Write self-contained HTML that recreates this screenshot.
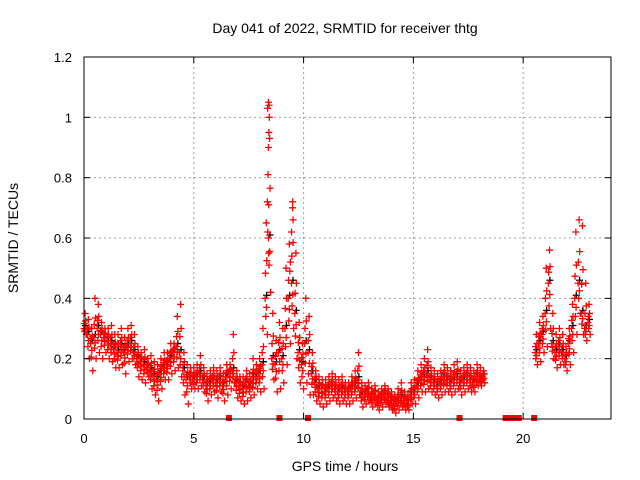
<!DOCTYPE html>
<html><head><meta charset="utf-8"><style>
html,body{margin:0;padding:0;background:#fff;}
svg{display:block;font-family:"Liberation Sans",sans-serif;}
</style></head><body>
<svg id="chart" width="640" height="480" viewBox="0 0 640 480" xmlns="http://www.w3.org/2000/svg">
<rect x="0" y="0" width="640" height="480" fill="#fff"/>
<g id="grid"></g>
<g id="marks"></g>
<g id="axes"></g>
<text x="345" y="33" font-size="14" text-anchor="middle">Day 041 of 2022, SRMTID for receiver thtg</text>
<text x="345" y="471" font-size="14" text-anchor="middle">GPS time / hours</text>
<text x="0" y="0" font-size="14" text-anchor="middle" transform="translate(18,238) rotate(-90)">SRMTID / TECUs</text>
</svg>
<script>
const hours=[0,0.15,0.3,0.45,0.6,0.75,0.9,1.05,1.2,1.35,1.5,1.65,1.8,1.95,2.1,2.25,2.4,2.55,2.7,2.85,
3.0,3.15,3.3,3.45,3.6,3.75,3.9,4.05,4.2,4.35,4.5,4.65,4.8,4.95,5.1,5.25,5.4,5.55,5.7,5.85,
6.0,6.15,6.3,6.45,6.6,6.75,6.9,7.05,7.2,7.35,7.5,7.65,7.8,7.95,8.1,8.25,8.4,8.55,8.7,8.85,
9.0,9.15,9.3,9.45,9.6,9.75,9.9,10.05,10.2,10.35,10.5,10.65,10.8,10.95,11.1,11.25,11.4,11.55,11.7,11.85,
12.0,12.15,12.3,12.45,12.6,12.75,12.9,13.05,13.2,13.35,13.5,13.65,13.8,13.95,14.1,14.25,14.4,14.55,14.7,14.85,
15.0,15.15,15.3,15.45,15.6,15.75,15.9,16.05,16.2,16.35,16.5,16.65,16.8,16.95,17.1,17.25,17.4,17.55,17.7,17.85,
18.0,18.15,
20.55,20.7,20.85,21.0,21.15,21.3,21.45,21.6,21.75,21.9,22.05,22.2,22.35,22.5,22.65,22.8,22.95];
const tecuMid=[.30,.28,.25,.27,.30,.28,.27,.26,.25,.23,.22,.24,.22,.24,.25,.22,.20,.19,.18,.17,
.16,.14,.13,.15,.17,.18,.20,.22,.24,.22,.16,.13,.14,.13,.14,.15,.13,.11,.12,.13,
.12,.13,.11,.14,.15,.16,.12,.11,.10,.12,.11,.13,.14,.15,.18,.40,.60,.20,.18,.22,
.20,.30,.40,.45,.35,.22,.18,.25,.22,.15,.12,.10,.10,.09,.10,.11,.10,.09,.10,.09,
.09,.10,.11,.13,.08,.08,.09,.07,.08,.06,.07,.08,.07,.06,.05,.06,.07,.06,.05,.08,
.09,.11,.13,.14,.15,.13,.12,.11,.12,.14,.13,.12,.13,.14,.12,.13,.14,.13,.12,.14,
.13,.14,
.22,.25,.28,.35,.45,.25,.22,.24,.22,.20,.25,.30,.40,.45,.35,.30,.32];
const tecuHigh=[.35,.33,.30,.40,.38,.32,.30,.30,.31,.28,.28,.30,.27,.30,.31,.28,.24,.22,.23,.20,
.21,.19,.18,.20,.22,.22,.25,.25,.34,.38,.22,.18,.17,.17,.18,.21,.17,.15,.16,.17,
.16,.17,.15,.18,.18,.28,.16,.14,.14,.16,.15,.20,.18,.20,.30,.65,.93,.35,.26,.32,
.30,.50,.58,.72,.55,.32,.25,.40,.34,.22,.16,.14,.13,.13,.14,.15,.14,.13,.14,.12,
.12,.14,.16,.22,.12,.11,.12,.10,.11,.09,.10,.11,.10,.09,.08,.10,.12,.09,.08,.12,
.13,.16,.18,.20,.23,.17,.16,.15,.16,.18,.17,.16,.18,.19,.16,.17,.18,.17,.16,.18,
.17,.16,
.28,.32,.34,.50,.56,.35,.28,.30,.28,.24,.30,.38,.62,.66,.64,.45,.38];
const tecuLow=[.28,.20,.16,.20,.22,.20,.22,.20,.19,.17,.17,.18,.15,.19,.20,.18,.14,.13,.12,.14,
.10,.08,.06,.10,.13,.13,.15,.16,.17,.14,.08,.05,.10,.10,.10,.11,.09,.06,.08,.09,
.07,.09,.06,.08,.10,.12,.07,.06,.05,.06,.07,.08,.10,.09,.10,.28,.42,.13,.09,.10,
.12,.18,.25,.30,.20,.12,.10,.12,.08,.08,.06,.05,.04,.05,.06,.07,.06,.05,.06,.05,
.05,.06,.07,.08,.04,.05,.06,.04,.05,.03,.04,.05,.04,.03,.02,.03,.04,.03,.03,.05,
.05,.07,.09,.09,.10,.09,.08,.07,.08,.09,.09,.08,.09,.10,.08,.09,.10,.09,.09,.11,
.11,.12,
.18,.19,.22,.24,.30,.20,.17,.18,.18,.16,.18,.22,.28,.35,.28,.26,.28];
const spikeHours=[8.35,8.38,8.4,8.42,8.44,8.36,8.4,8.43,8.37,8.41,9.45,9.5,9.52,9.4];
const spikeTecu=[0.72,0.81,0.90,0.95,1.00,1.03,1.05,1.04,0.62,0.55,0.62,0.70,0.66,0.52];
const zeroHours=[6.6,8.9,10.2,17.1,19.2,19.35,19.5,19.65,19.8,20.5];
const xTicks=[0,5,10,15,20];
const yTicks=[0,0.2,0.4,0.6,0.8,1,1.2];
const yTickLabels=["0","0.2","0.4","0.6","0.8","1","1.2"];

const L=84,R=611,T=57,B=419;
const X=h=>L+h*(R-L)/24;
const Y=v=>B-v*(B-T)/1.2;
const NS="http://www.w3.org/2000/svg";
function mk(tag,attrs,parent){const e=document.createElementNS(NS,tag);for(const k in attrs)e.setAttribute(k,attrs[k]);parent.appendChild(e);return e;}
const grid=document.getElementById('grid'),marks=document.getElementById('marks'),axes=document.getElementById('axes');
xTicks.forEach(t=>{if(t>0){const g=mk('line',{x1:X(t),x2:X(t),y1:T,y2:B,stroke:'#a0a0a0','stroke-dasharray':'2,3'},grid);

}});
yTicks.forEach(t=>{if(t>0&&t<1.2){const g=mk('line',{x1:L,x2:R,y1:Y(t),y2:Y(t),stroke:'#a0a0a0','stroke-dasharray':'2,3'},grid);

}});
function plus(x,y,color){const p=mk('path',{d:`M${x-3.5},${y}h7M${x},${y-3.5}v7`,stroke:color,'stroke-width':1.3,fill:'none'},marks);

}
hours.forEach((h,i)=>{plus(X(h)+1.5,Y(tecuMid[i]+0.01),'#000');});
hours.forEach((h,i)=>{
 plus(X(h),Y(tecuMid[i]),'#f00');
 plus(X(h)+1.1,Y(tecuHigh[i]),'#f00');
 plus(X(h)+2.2,Y(tecuLow[i]),'#f00');
 plus(X(h)+1.6,Y((tecuMid[i]+tecuHigh[i])/2),'#f00');
 plus(X(h)+0.6,Y((tecuMid[i]+tecuLow[i])/2),'#f00');
 plus(X(h)+1.3,Y((tecuMid[i]*3+tecuLow[i])/4),'#f00');
 plus(X(h)+0.3,Y((tecuMid[i]*2+tecuHigh[i])/3),'#f00');
});
spikeHours.forEach((h,i)=>plus(X(h),Y(spikeTecu[i]),'#f00'));
zeroHours.forEach(h=>{const r=mk('rect',{x:X(h)-3,y:B-4,width:6,height:6,fill:'#f00'},marks);

});
const frame=mk('rect',{x:L,y:T,width:R-L,height:B-T,fill:'none',stroke:'#000','stroke-width':1},axes);


xTicks.forEach(t=>{mk('line',{x1:X(t),x2:X(t),y1:B,y2:B-6,stroke:'#000'},axes);mk('line',{x1:X(t),x2:X(t),y1:T,y2:T+6,stroke:'#000'},axes);
const tx=mk('text',{x:X(t),y:B+24,'font-size':13,'text-anchor':'middle'},axes);tx.textContent=t;

});
yTicks.forEach((t,i)=>{mk('line',{x1:L,x2:L+6,y1:Y(t),y2:Y(t),stroke:'#000'},axes);mk('line',{x1:R,x2:R-6,y1:Y(t),y2:Y(t),stroke:'#000'},axes);
const tx=mk('text',{x:L-12,y:Y(t)+5,'font-size':13,'text-anchor':'end'},axes);tx.textContent=yTickLabels[i];

});
</script>
</body></html>
